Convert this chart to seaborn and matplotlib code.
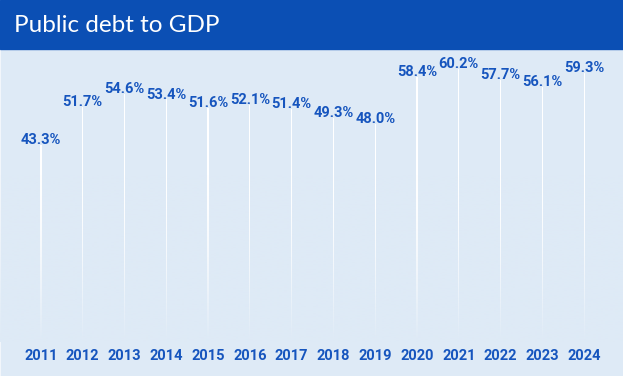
import numpy as np
import pandas as pd
import seaborn as sns
import matplotlib.pyplot as plt
from matplotlib.patches import Rectangle

years = ["2011", "2012", "2013", "2014", "2015", "2016", "2017",
         "2018", "2019", "2020", "2021", "2022", "2023", "2024"]
debt = [43.3, 51.7, 54.6, 53.4, 51.6, 52.1, 51.4,
        49.3, 48.0, 58.4, 60.2, 57.7, 56.1, 59.3]
title = "Public debt to GDP"

df = pd.DataFrame({"year": years, "debt": debt})

sns.set_style("white")
plt.rcParams["font.family"] = ["Roboto", "DejaVu Sans"]

bg = "#DEEAF6"
banner = "#0B4FB4"
label_col = "#1655BE"

fig = plt.figure(figsize=(6.23, 3.76), dpi=100, facecolor="#EEF4FB")
ax = fig.add_axes([0.0, 0.0, 1.0, 326 / 376])
ax.set_facecolor(bg)

# thin white stems
sns.barplot(data=df, x="year", y="debt", color="white", width=0.03,
            linewidth=0, saturation=1, ax=ax, zorder=2)

# stems fade out toward the bottom
grad = np.zeros((100, 1, 4))
r, g, b = [int(bg[i:i + 2], 16) / 255 for i in (1, 3, 5)]
grad[..., 0], grad[..., 1], grad[..., 2] = r, g, b
grad[:, 0, 3] = np.linspace(1, 0, 100) ** 1.6
ax.imshow(grad, extent=(-0.98, 13.93, 0, 38), origin="lower",
          aspect="auto", zorder=3, interpolation="bilinear")
ax.set_xlim(-0.98, 13.93)
ax.set_ylim(-7.5, 64.3)

for i, v in enumerate(debt):
    ax.text(i, v + 0.2, f"{v:.1f}%", ha="center", va="baseline",
            fontsize=10.5, fontweight="bold", color=label_col, zorder=4)
for i, y in enumerate(years):
    ax.text(i, -4.0, y, ha="center", va="baseline",
            fontsize=10.5, fontweight="bold", color=label_col, zorder=4)

ax.set_xlabel("")
ax.set_ylabel("")
ax.set_xticks([])
ax.set_yticks(np.arange(-6.2, 64, 5.75))
ax.set_yticklabels([])
ax.tick_params(axis="y", direction="in", length=3, color="#B8C2D0", width=0.8)
for s in ["top", "right", "bottom"]:
    ax.spines[s].set_visible(False)
ax.spines["left"].set_color("#F2F6FB")
ax.spines["left"].set_linewidth(1.5)

fig.patches.append(Rectangle((0, 1 - 49 / 376), 1, 49 / 376,
                             transform=fig.transFigure, color=banner, zorder=5))
fig.text(14 / 623, 1 - 26 / 376, title, color="white", fontsize=17.5,
         ha="left", va="center", zorder=6, family=["Lato", "DejaVu Sans"])

fig.savefig("out.png", dpi=100, facecolor=fig.get_facecolor())
